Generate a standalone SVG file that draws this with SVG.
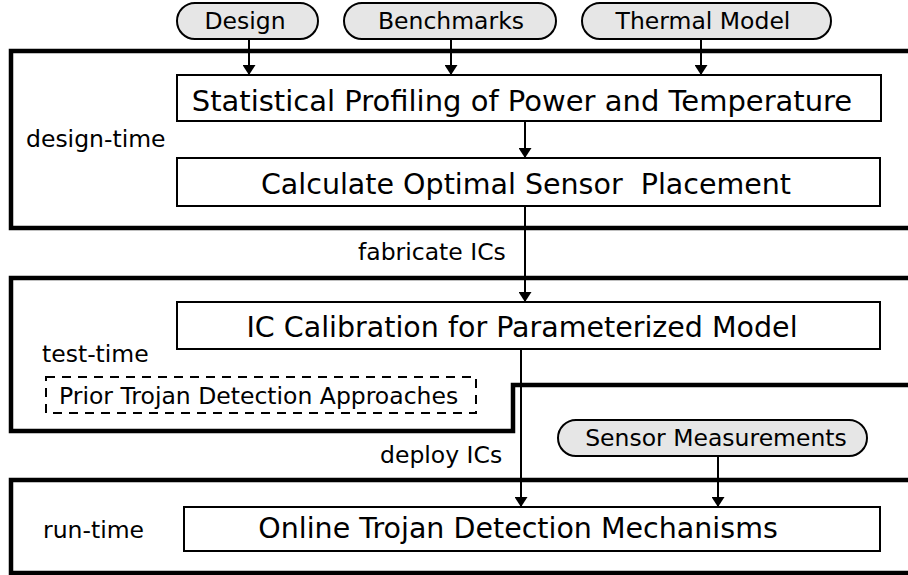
<svg xmlns="http://www.w3.org/2000/svg" width="908" height="575" viewBox="0 0 908 575">
  <defs>
    <marker id="arrow" viewBox="0 0 10 13" refX="10" refY="6.5" markerWidth="10" markerHeight="13" markerUnits="userSpaceOnUse" orient="auto">
      <path d="M0,0 L10,6.5 L0,13 Z" fill="#000"/>
    </marker>
    <style>
      text { font-family: "DejaVu Sans", "Liberation Sans", sans-serif; fill: #000; }
      .stage { fill: none; stroke: #000; stroke-width: 4.5; }
      .step { fill: #fff; stroke: #000; stroke-width: 2; }
      .input { fill: #e6e6e6; stroke: #000; stroke-width: 2; }
      .dashed { fill: none; stroke: #000; stroke-width: 2; stroke-dasharray: 9 7; }
      .big { font-size: 28.5px; text-anchor: middle; }
      .lbl { font-size: 23.5px; }
      .mid { text-anchor: middle; }
      .edge { fill: none; stroke: #000; stroke-width: 2; }
    </style>
  </defs>
  <rect width="908" height="575" fill="#fff"/>

  <!-- stage frames (open on the right) -->
  <g id="stages">
    <path class="stage" d="M912,51 H11 V228 H912"/>
    <path class="stage" d="M912,278 H11 V431 H513 V385 H912"/>
    <path class="stage" d="M912,480 H11 V573 H912"/>
    <text class="lbl" x="26" y="147">design-time</text>
    <text class="lbl" x="42" y="362">test-time</text>
    <text class="lbl" x="43" y="538">run-time</text>
  </g>

  <!-- inputs -->
  <g id="design">
    <rect class="input" x="177" y="3" width="141" height="36" rx="18"/>
    <text class="lbl mid" x="245" y="29">Design</text>
  </g>
  <g id="benchmarks">
    <rect class="input" x="344" y="3" width="212" height="36" rx="18"/>
    <text class="lbl mid" x="451" y="29">Benchmarks</text>
  </g>
  <g id="thermal-model">
    <rect class="input" x="582" y="3" width="249" height="36" rx="18"/>
    <text class="lbl mid" x="703" y="29">Thermal Model</text>
  </g>
  <g id="sensor-measurements">
    <rect class="input" x="558" y="420" width="309" height="36" rx="18"/>
    <text class="lbl mid" x="716" y="446">Sensor Measurements</text>
  </g>

  <!-- process steps -->
  <g id="profiling">
    <rect class="step" x="177" y="75" width="704" height="46"/>
    <text class="big" x="522" y="111" style="font-size:29px">Statistical Profiling of Power and Temperature</text>
  </g>
  <g id="placement">
    <rect class="step" x="177" y="158" width="703" height="48"/>
    <text class="big" x="526" y="194" xml:space="preserve">Calculate Optimal Sensor  Placement</text>
  </g>
  <g id="calibration">
    <rect class="step" x="177" y="302" width="703" height="47"/>
    <text class="big" x="522" y="337">IC Calibration for Parameterized Model</text>
  </g>
  <g id="prior-approaches">
    <rect class="dashed" x="46" y="377" width="430" height="36"/>
    <text class="lbl" x="59" y="404">Prior Trojan Detection Approaches</text>
  </g>
  <g id="online-detection">
    <rect class="step" x="184" y="507" width="696" height="44"/>
    <text class="big" x="518" y="538">Online Trojan Detection Mechanisms</text>
  </g>

  <!-- connectors -->
  <g id="connectors">
    <line class="edge" x1="249" y1="39" x2="249" y2="75" marker-end="url(#arrow)"/>
    <line class="edge" x1="451" y1="39" x2="451" y2="75" marker-end="url(#arrow)"/>
    <line class="edge" x1="701" y1="39" x2="701" y2="75" marker-end="url(#arrow)"/>
    <line class="edge" x1="525" y1="121" x2="525" y2="158" marker-end="url(#arrow)"/>
    <line class="edge" x1="525" y1="206" x2="525" y2="302" marker-end="url(#arrow)"/>
    <line class="edge" x1="521" y1="349" x2="521" y2="507" marker-end="url(#arrow)"/>
    <line class="edge" x1="718" y1="456" x2="718" y2="507" marker-end="url(#arrow)"/>
    <text class="lbl" x="358" y="260">fabricate ICs</text>
    <text class="lbl" x="380" y="463">deploy ICs</text>
  </g>
</svg>
